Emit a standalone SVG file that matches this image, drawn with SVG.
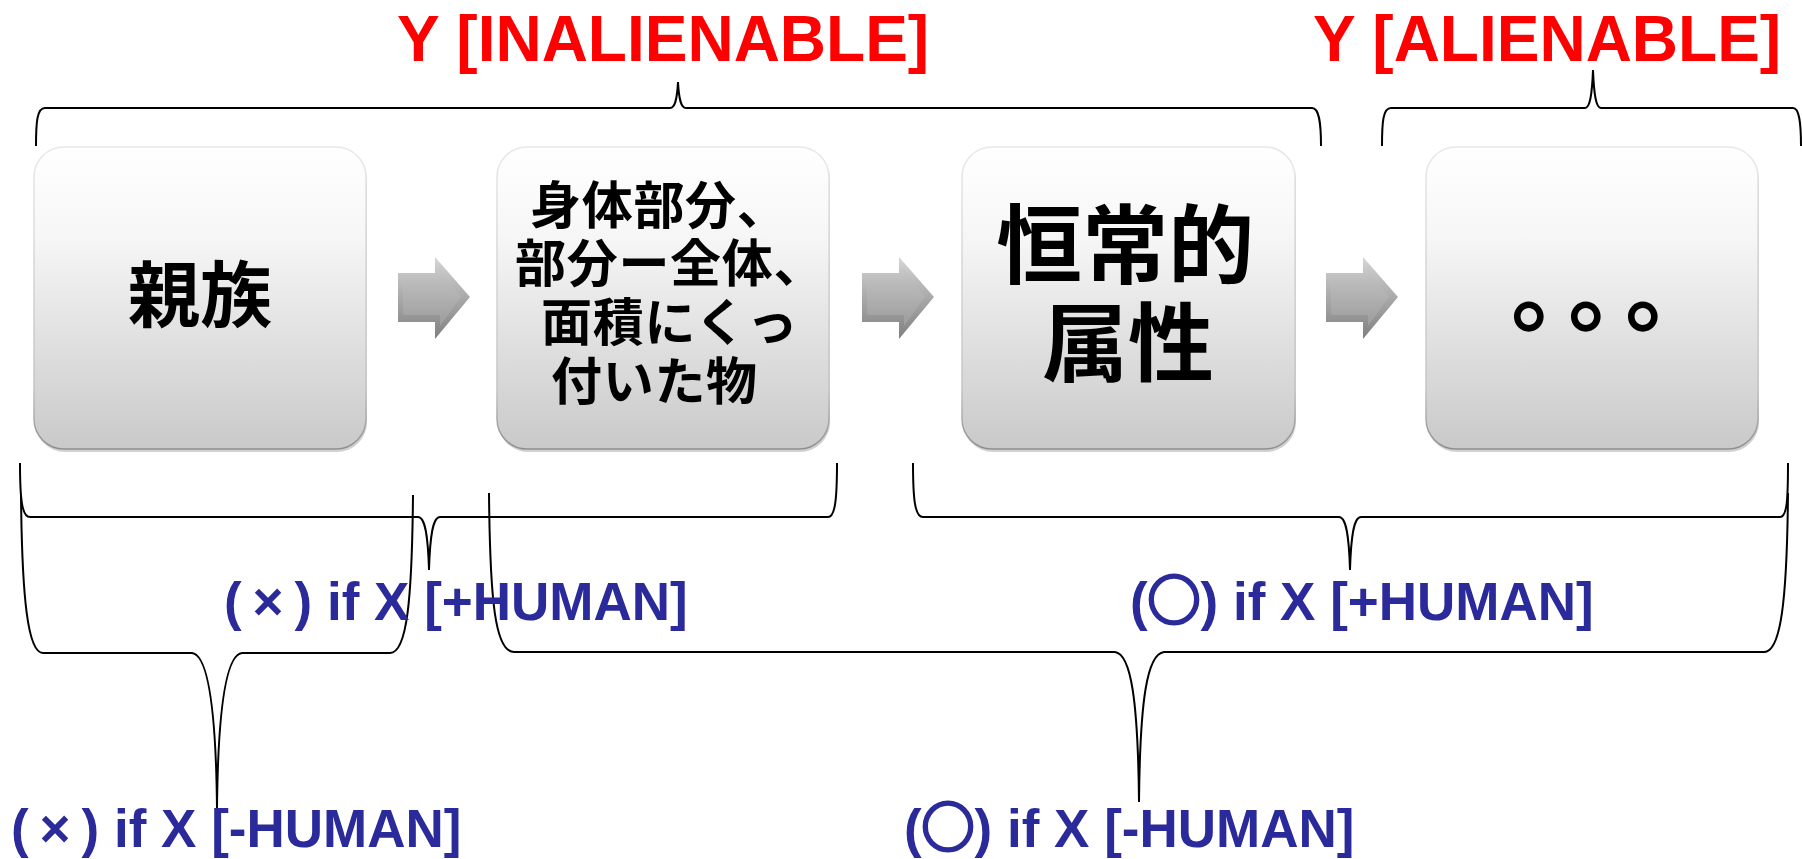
<svg xmlns="http://www.w3.org/2000/svg" width="1802" height="859" viewBox="0 0 1802 859">
<style>
.title{font-family:"Liberation Sans",Arial,sans-serif;font-weight:bold;font-size:64px;fill:#ff0000}
.lbl{font-family:"Liberation Sans",Arial,sans-serif;font-weight:bold;font-size:53px;fill:#2a2a9a}
.ring{font-family:"Noto Sans CJK JP",sans-serif;stroke:#2a2a9a;stroke-width:3}
.cjk{font-family:"Noto Sans CJK JP","Noto Sans CJK SC",sans-serif;font-weight:bold;fill:#000}
.dots{text-spacing-trim:space-all}
.brace{fill:none;stroke:#000;stroke-width:2}
.box{fill:url(#boxFill);stroke:url(#boxEdge);stroke-width:1.5}
.shadow{fill:#000;opacity:0.18}
.arrow{fill:url(#arrowFill)}
.arrowIn{fill:url(#arrowInner)}
</style>
<defs>
<linearGradient id="boxFill" x1="0" y1="0" x2="0" y2="1">
<stop offset="0" stop-color="#ffffff"/>
<stop offset="0.3" stop-color="#f6f6f6"/>
<stop offset="1" stop-color="#c9c9c9"/>
</linearGradient>
<linearGradient id="boxEdge" x1="0" y1="0" x2="0" y2="1">
<stop offset="0" stop-color="#e8e8e8"/>
<stop offset="0.8" stop-color="#c4c4c4"/>
<stop offset="1" stop-color="#8f8f8f"/>
</linearGradient>
<linearGradient id="arrowFill" x1="0" y1="0" x2="0" y2="1">
<stop offset="0" stop-color="#d6d6d6"/>
<stop offset="0.5" stop-color="#a9a9a9"/>
<stop offset="1" stop-color="#808080"/>
</linearGradient>
<linearGradient id="arrowInner" x1="0" y1="0" x2="0" y2="1">
<stop offset="0" stop-color="#c4c4c4"/>
<stop offset="1" stop-color="#9c9c9c"/>
</linearGradient>
</defs>
<rect width="1802" height="859" fill="#ffffff"/>

<g id="title-inalienable"><text class="title" x="397" y="61">Y [INALIENABLE]</text></g>
<g id="title-alienable"><text class="title" x="1313" y="61">Y [ALIENABLE]</text></g>

<g id="node-kinship">
<rect class="shadow" x="35" y="150" width="332" height="302" rx="30"/>
<rect class="box" x="34" y="147" width="332" height="302" rx="30"/>
<text class="cjk" x="200" y="321" font-size="72" text-anchor="middle">親族</text>
</g>
<g id="node-bodypart">
<rect class="shadow" x="498" y="150" width="332" height="302" rx="30"/>
<rect class="box" x="497" y="147" width="332" height="302" rx="30"/>
<text class="cjk" font-size="51" letter-spacing="0.7">
<tspan x="530" y="224">身体部分、</tspan>
<tspan x="515" y="282">部分ー全体、</tspan>
<tspan x="541" y="341">面積にくっ</tspan>
<tspan x="551" y="400">付いた物</tspan>
</text>
</g>
<g id="node-permanent">
<rect class="shadow" x="963" y="150" width="333" height="302" rx="30"/>
<rect class="box" x="962" y="147" width="333" height="302" rx="30"/>
<text class="cjk" font-size="86" text-anchor="middle">
<tspan x="1135" y="277">恒常的</tspan>
<tspan x="1128" y="375">属性</tspan>
</text>
</g>
<g id="node-etc">
<rect class="shadow" x="1427" y="150" width="332" height="302" rx="30"/>
<rect class="box" x="1426" y="147" width="332" height="302" rx="30"/>
<text class="cjk dots" x="1511" y="324" font-size="92" letter-spacing="-35">。。。</text>
</g>

<g id="connectors">
<g id="arrow1">
<polygon class="arrow" points="398,273 435,273 435,257 470,297 435,339 435,322 398,322"/>
<polygon class="arrowIn" points="403,280 440,280 440,270 461,297 440,326 440,315 403,315"/>
</g>
<g id="arrow2" transform="translate(464,0)">
<polygon class="arrow" points="398,273 435,273 435,257 470,297 435,339 435,322 398,322"/>
<polygon class="arrowIn" points="403,280 440,280 440,270 461,297 440,326 440,315 403,315"/>
</g>
<g id="arrow3" transform="translate(928,0)">
<polygon class="arrow" points="398,273 435,273 435,257 470,297 435,339 435,322 398,322"/>
<polygon class="arrowIn" points="403,280 440,280 440,270 461,297 440,326 440,315 403,315"/>
</g>
</g>

<g id="braces">
<path class="brace" d="M36,146 C36,122 37,108 45,108 L670,108 C675,108 677,100 678,82 C679,100 681,108 686,108 L1312,108 C1319,108 1321,122 1321,146"/>
<path class="brace" d="M1382,146 C1382,122 1383,108 1391,108 L1585,108 C1590,108 1592,95 1593,70 C1594,95 1596,108 1601,108 L1793,108 C1799,108 1801,122 1801,146"/>
<path class="brace" d="M20,463 C20,500 22,517 30,517 L418,517 C425,517 428,535 429,570 C430,535 433,517 440,517 L828,517 C835,517 837,500 837,463"/>
<path class="brace" d="M913,463 C913,500 915,517 923,517 L1339,517 C1346,517 1349,535 1350,570 C1351,535 1354,517 1361,517 L1780,517 C1787,517 1788,500 1788,463"/>
<path class="brace" d="M21,495 C22,600 28,653 43,653 L192,653 C208,655 216,710 217,808 C218,710 226,655 242,653 L390,653 C407,653 412,600 413,495"/>
<path class="brace" d="M489,493 C490,600 495,652 514,652 L1115,652 C1131,654 1138,700 1139,802 C1140,700 1147,654 1164,652 L1764,652 C1781,652 1787,600 1788,493"/>
</g>

<g id="label-x-plus">
<text class="lbl" y="620"><tspan x="224">(</tspan><tspan x="252.5">×</tspan><tspan x="294.6">) if X [+HUMAN]</tspan></text>
</g>
<g id="label-o-plus">
<text class="lbl" y="620"><tspan x="1130">(</tspan><tspan x="1147.6" class="ring">○</tspan><tspan x="1200.6">) if X [+HUMAN]</tspan></text>
</g>
<g id="label-x-minus">
<text class="lbl" y="847"><tspan x="11">(</tspan><tspan x="39.5">×</tspan><tspan x="81.6">) if X [-HUMAN]</tspan></text>
</g>
<g id="label-o-minus">
<text class="lbl" y="847"><tspan x="904">(</tspan><tspan x="921.6" class="ring">○</tspan><tspan x="974.6">) if X [-HUMAN]</tspan></text>
</g>
</svg>
